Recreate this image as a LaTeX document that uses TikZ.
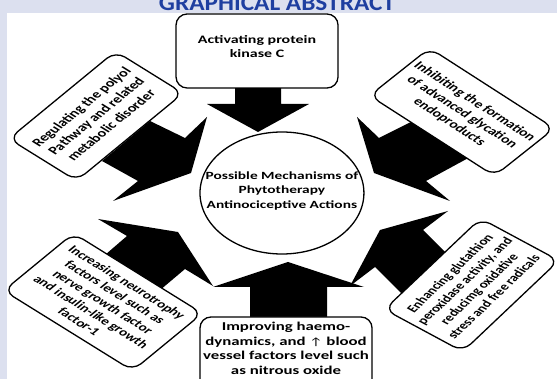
\documentclass[tikz,border=0pt]{standalone}
\usepackage{fontspec}
\setmainfont{Carlito}
\newfontfamily\symf{DejaVu Sans}
\usetikzlibrary{shapes.geometric}
\definecolor{bglav}{HTML}{DCE0EF}
\definecolor{titleblue}{HTML}{1F3FA0}
\begin{document}
\begin{tikzpicture}[x=1pt,y=-1pt,
  mbox/.style={draw=black, line width=1.3pt, rounded corners=11pt, fill=white, align=center,
    font=\fontsize{11}{13}\selectfont\bfseries, inner sep=1pt},
  mtext/.style={align=center, font=\fontsize{11}{13}\selectfont\bfseries, inner sep=0pt},
  blk/.style={fill=black}]
\useasboundingbox (0,0) rectangle (557,379);
\fill[bglav] (0,0) rectangle (557,379);
\fill[white] (7,13) rectangle (557,379);
\node[anchor=base, font=\fontsize{23}{23}\selectfont\bfseries, text=titleblue, inner sep=0pt, xscale=1.1, transform shape] (title) at (277,10.5) {GRAPHICAL ABSTRACT};

% arrows (block arrows pointing at the centre)
\fill[blk] (258,132) -- (309,104) -- (281,104) -- (281,86) -- (235,86) -- (235,104) -- (207,104) -- cycle;
\fill[blk] (288,262) -- (364,287) -- (327,287) -- (327,320) -- (250,320) -- (250,287) -- (213,287) -- cycle;
\fill[blk] (191,173) -- (207,117) -- (185,138) -- (150,121) -- (102,161) -- (138,181) -- (113,201) -- cycle;
\fill[blk] (178,232) -- (98,219) -- (127,236) -- (98,261) -- (153,296) -- (185,269) -- (213,286) -- cycle;
\fill[blk] (374,173) -- (357,117) -- (379,138) -- (427,114) -- (472,156) -- (426,181) -- (450,201) -- cycle;
\fill[blk] (380,230) -- (448,211) -- (423,230) -- (455,262) -- (407,299) -- (375,267) -- (350,286) -- cycle;

\begin{scope}[xscale=1.4, transform shape]
\node[mbox, minimum width=115.7pt, minimum height=74pt] (topbox) at (183.6,51) {};
\node[mtext, font=\fontsize{11.4}{14}\selectfont\bfseries] (toptext) at (183.6,47) {Activating protein\\kinase C};

\node[mbox, minimum width=122.9pt, minimum height=78pt] (botbox) at (204.3,356) {};
\node[mtext, font=\fontsize{12}{14.5}\selectfont\bfseries] (bottext) at (204.3,348.5) {Improving haemo-\\dynamics, and {\symf\normalfont\fontsize{10.5}{12}\selectfont ↑} blood\\vessel factors level such\\as nitrous oxide};

\node[mbox, rotate=49, minimum width=116pt, minimum height=64pt, font=\fontsize{11.5}{14}\selectfont\bfseries] (ulbox) at (68.6,116) {Regulating the polyol\\Pathway and related\\metabolic disorder};
\node[mbox, rotate=-42, minimum width=120pt, minimum height=64pt, font=\fontsize{11.3}{13.5}\selectfont\bfseries] (urbox) at (330,112) {Inhibiting the formation\\of advanced glycation\\endoproducts};
\node[mbox, rotate=-41, minimum width=122pt, minimum height=76pt] (llbox) at (73.6,302) {Increasing neurotrophy\\factors level such as\\nerve growth factor\\and insulin-like growth\\factor-1};
\node[mbox, rotate=53, minimum width=114pt, minimum height=70pt, font=\fontsize{10.8}{13}\selectfont\bfseries] (lrbox) at (336.9,285) {Enhancing glutathion\\peroxidase activity, and\\reducimg oxidative\\stress and free radicals};

\node[ellipse, draw=black, line width=1.3pt, fill=white, minimum width=117.1pt, minimum height=122pt, inner sep=0pt] (center) at (201.4,193) {};
\node[mtext, font=\fontsize{11}{14.5}\selectfont\bfseries] (ctext) at (201.4,191) {Possible Mechanisms of\\Phytotherapy\\Antinociceptive Actions};
\end{scope}
\end{tikzpicture}
\end{document}
